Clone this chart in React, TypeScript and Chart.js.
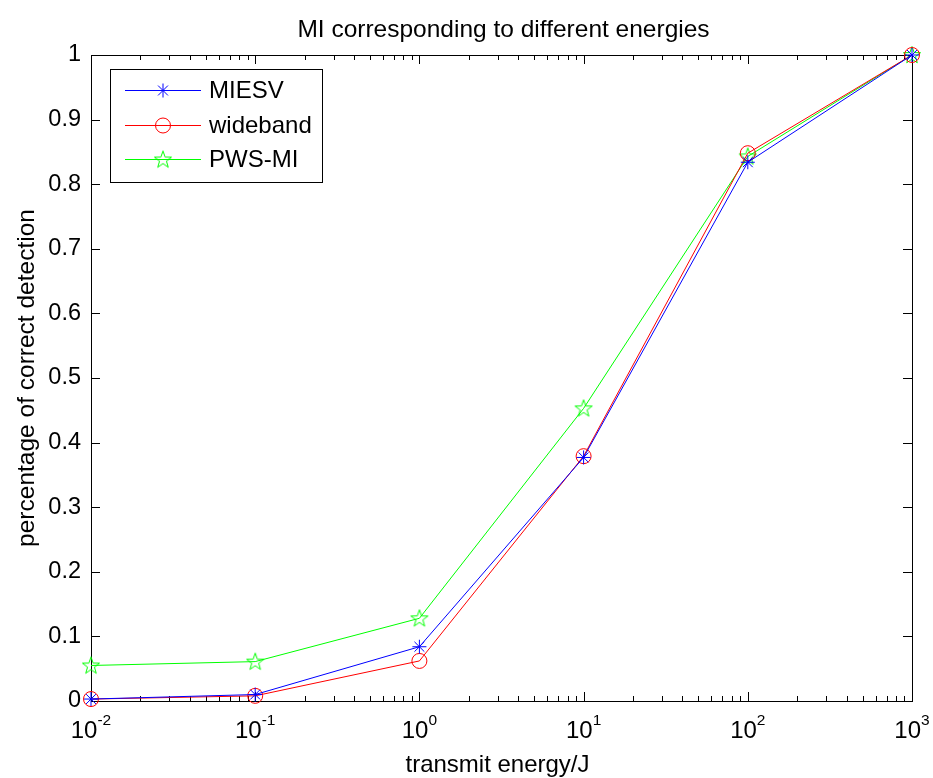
import React, { useEffect, useRef } from 'react';
import { Chart, registerables } from 'chart.js';
Chart.register(...registerables);

const energies = [0.01, 0.1, 1, 10, 100, 1000];
const miesv = [0.003, 0.010, 0.084, 0.377, 0.834, 1.0];
const wideband = [0.003, 0.008, 0.062, 0.379, 0.848, 1.0];
const pwsmi = [0.055, 0.061, 0.128, 0.453, 0.843, 1.0];
const seriesLabels = ['MIESV', 'wideband', 'PWS-MI'];
const seriesColors = ['#0000ff', '#ff0000', '#00ff00'];
const xExponents = [-2, -1, 0, 1, 2, 3];
const yTicks = [0, 0.1, 0.2, 0.3, 0.4, 0.5, 0.6, 0.7, 0.8, 0.9, 1];
const titleText = 'MI corresponding to different energies';
const xTitle = 'transmit energy/J';
const yTitle = 'percentage of correct detection';

const FONT = '"Liberation Sans", Arial, sans-serif';

function makeStar(color: string, r: number): HTMLCanvasElement {
  const size = Math.ceil(r * 2 + 4);
  const c = document.createElement('canvas');
  c.width = size;
  c.height = size;
  const ctx = c.getContext('2d')!;
  ctx.strokeStyle = color;
  ctx.lineWidth = 1;
  ctx.beginPath();
  const cx = size / 2, cy = size / 2 + 0.5;
  for (let i = 0; i < 10; i++) {
    const ang = -Math.PI / 2 + (i * Math.PI) / 5;
    const rr = i % 2 === 0 ? r : r * 0.4;
    const px = cx + rr * Math.cos(ang);
    const py = cy + rr * Math.sin(ang);
    if (i === 0) ctx.moveTo(px, py);
    else ctx.lineTo(px, py);
  }
  ctx.closePath();
  ctx.stroke();
  return c;
}

function toPoints(ys: number[]) {
  return energies.map((x, i) => ({ x, y: ys[i] }));
}

export default function App() {
  const ref = useRef<HTMLCanvasElement>(null);
  useEffect(() => {
    const canvas = ref.current!;
    const star = makeStar(seriesColors[2], 9);

    const drawMarker = (ctx: CanvasRenderingContext2D, idx: number, x: number, y: number) => {
      ctx.save();
      ctx.strokeStyle = seriesColors[idx];
      ctx.lineWidth = 1;
      if (idx === 0) {
        const r = 7;
        ctx.beginPath();
        for (let k = 0; k < 4; k++) {
          const a = (k * Math.PI) / 4;
          ctx.moveTo(x - r * Math.cos(a), y - r * Math.sin(a));
          ctx.lineTo(x + r * Math.cos(a), y + r * Math.sin(a));
        }
        ctx.stroke();
      } else if (idx === 1) {
        ctx.beginPath();
        ctx.arc(x, y, 7.5, 0, Math.PI * 2);
        ctx.stroke();
      } else {
        ctx.drawImage(star, x - star.width / 2, y - star.height / 2);
      }
      ctx.restore();
    };

    const matlabPlugin = {
      id: 'matlab',
      beforeDraw(chart: any) {
        const ctx = chart.ctx;
        ctx.save();
        ctx.fillStyle = '#ffffff';
        ctx.fillRect(0, 0, chart.width, chart.height);
        ctx.restore();
      },
      beforeDatasetsDraw(chart: any) {
        const ctx: CanvasRenderingContext2D = chart.ctx;
        const { left, right, top, bottom } = chart.chartArea;
        const xs = chart.scales.x;
        const ys = chart.scales.y;
        ctx.save();
        ctx.strokeStyle = '#000000';
        ctx.lineWidth = 1;
        // ticks
        ctx.beginPath();
        for (let e = xExponents[0]; e <= xExponents[xExponents.length - 1]; e++) {
          for (let m = 1; m <= 9; m++) {
            if (e === xExponents[xExponents.length - 1] && m > 1) break;
            const v = m * Math.pow(10, e);
            const px = Math.round(xs.getPixelForValue(v)) + 0.5;
            const len = m === 1 ? 9 : 5;
            ctx.moveTo(px, bottom);
            ctx.lineTo(px, bottom - len);
            ctx.moveTo(px, top);
            ctx.lineTo(px, top + len);
          }
        }
        yTicks.forEach((v) => {
          const py = Math.round(ys.getPixelForValue(v)) + 0.5;
          ctx.moveTo(left, py);
          ctx.lineTo(left + 9, py);
          ctx.moveTo(right, py);
          ctx.lineTo(right - 9, py);
        });
        ctx.stroke();
        // box
        ctx.strokeRect(Math.round(left) + 0.5, Math.round(top) + 0.5, Math.round(right - left), Math.round(bottom - top));

        // x tick labels
        ctx.fillStyle = '#000000';
        xExponents.forEach((e) => {
          const px = xs.getPixelForValue(Math.pow(10, e));
          ctx.font = `24px ${FONT}`;
          const wb = ctx.measureText('10').width;
          ctx.font = `15.5px ${FONT}`;
          const expStr = e < 0 ? '-' + Math.abs(e) : String(e);
          const we = ctx.measureText(expStr).width;
          const x0 = px - (wb + we) / 2;
          ctx.textBaseline = 'alphabetic';
          ctx.textAlign = 'left';
          ctx.font = `24px ${FONT}`;
          ctx.fillText('10', x0, bottom + 37);
          ctx.font = `15.5px ${FONT}`;
          ctx.fillText(expStr, x0 + wb, bottom + 24);
        });

        // titles
        ctx.font = `24.5px ${FONT}`;
        ctx.textAlign = 'center';
        ctx.textBaseline = 'alphabetic';
        ctx.fillText(titleText, (left + right) / 2 + 2, 37);
        ctx.font = `24px ${FONT}`;
        ctx.fillText(xTitle, (left + right) / 2 - 4, 772);
        ctx.save();
        ctx.font = `24.5px ${FONT}`;
        ctx.translate(34, (top + bottom) / 2);
        ctx.rotate(-Math.PI / 2);
        ctx.fillText(yTitle, 0, 0);
        ctx.restore();
        ctx.restore();
      },
      afterDraw(chart: any) {
        const ctx: CanvasRenderingContext2D = chart.ctx;
        ctx.save();
        const bx = 110, by = 69, bw = 212, bh = 113;
        ctx.fillStyle = '#ffffff';
        ctx.fillRect(bx, by, bw, bh);
        ctx.strokeStyle = '#000000';
        ctx.lineWidth = 1;
        ctx.strokeRect(bx + 0.5, by + 0.5, bw, bh);
        const rows = [90, 125, 159];
        chart.data.datasets.forEach((ds: any, i: number) => {
          const y = rows[i] + 0.5;
          ctx.strokeStyle = ds.borderColor;
          ctx.beginPath();
          ctx.moveTo(125, y);
          ctx.lineTo(201, y);
          ctx.stroke();
          drawMarker(ctx, i, 163, y);
          ctx.fillStyle = '#000000';
          ctx.font = `24px ${FONT}`;
          ctx.textAlign = 'left';
          ctx.textBaseline = 'middle';
          ctx.fillText(ds.label, 209, y + 1);
        });
        ctx.restore();
      },
    };

    const chart = new Chart(canvas, {
      type: 'line',
      data: {
        datasets: [
          {
            label: seriesLabels[0],
            data: toPoints(miesv),
            borderColor: seriesColors[0],
            backgroundColor: 'rgba(0,0,0,0)',
            borderWidth: 1,
            pointStyle: 'star',
            pointRadius: 7,
            pointBorderColor: seriesColors[0],
            pointBorderWidth: 1,
            clip: false,
          },
          {
            label: seriesLabels[1],
            data: toPoints(wideband),
            borderColor: seriesColors[1],
            backgroundColor: 'rgba(0,0,0,0)',
            borderWidth: 1,
            pointStyle: 'circle',
            pointRadius: 7.5,
            pointBorderColor: seriesColors[1],
            pointBackgroundColor: 'rgba(0,0,0,0)',
            pointBorderWidth: 1,
            clip: false,
          },
          {
            label: seriesLabels[2],
            data: toPoints(pwsmi),
            borderColor: seriesColors[2],
            backgroundColor: 'rgba(0,0,0,0)',
            borderWidth: 1,
            pointStyle: star,
            pointRadius: 9,
            pointBorderColor: seriesColors[2],
            pointBorderWidth: 1,
            clip: false,
          },
        ] as any,
      },
      options: {
        animation: false,
        responsive: false,
        maintainAspectRatio: false,
        devicePixelRatio: 1,
        layout: { padding: { top: 55, right: 21, left: 0, bottom: 0 } },
        plugins: { legend: { display: false }, title: { display: false }, tooltip: { enabled: false } },
        elements: { line: { tension: 0 } },
        scales: {
          x: {
            type: 'logarithmic',
            min: 0.01,
            max: 1000,
            grid: { display: false, drawTicks: false },
            border: { display: false },
            ticks: { display: false },
            afterFit: (s: any) => { s.height = 77; },
          },
          y: {
            type: 'linear',
            min: 0,
            max: 1,
            grid: { display: false, drawTicks: false },
            border: { display: false },
            ticks: {
              stepSize: 0.1,
              autoSkip: false,
              padding: 10,
              color: '#000000',
              font: { family: FONT, size: 23.5 },
              callback: (v: any) => String(Math.round(Number(v) * 10) / 10),
            },
            afterFit: (s: any) => { s.width = 91; },
          },
        },
      } as any,
      plugins: [matlabPlugin],
    });
    return () => chart.destroy();
  }, []);

  return (
    <div style={{ position: 'fixed', left: 0, top: 0, width: 933, height: 778, background: '#fff' }}>
      <canvas ref={ref} width={933} height={778} style={{ width: 933, height: 778, display: 'block' }} />
    </div>
  );
}
